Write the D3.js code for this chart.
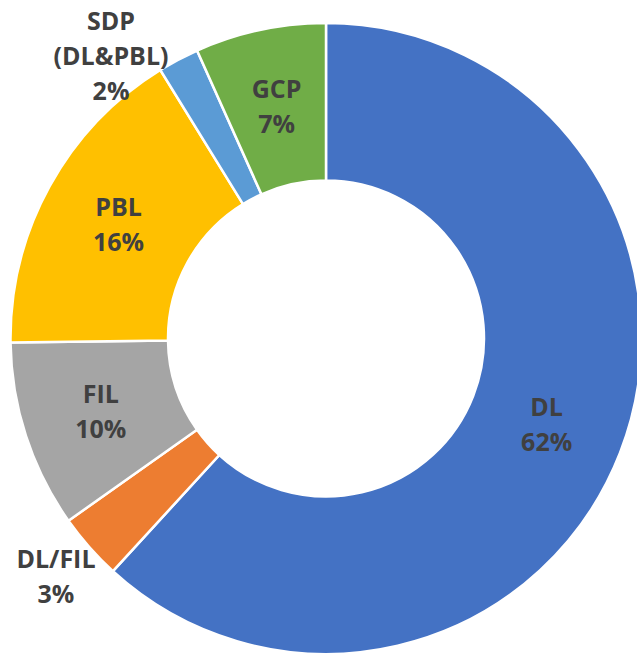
<!DOCTYPE html>
<html>
<head>
<meta charset="utf-8">
<script src="https://cdn.jsdelivr.net/npm/d3@7"></script>
<style>
  html, body { margin: 0; padding: 0; background: #fff; }
  svg { display: block; }
</style>
</head>
<body>
<div id="chart"></div>
<script>
// slice data, clockwise from 12 o'clock
const labels = [["DL"], ["DL/FIL"], ["FIL"], ["PBL"], ["SDP", "(DL&PBL)"], ["GCP"]];
const values = [61.8, 3.4, 9.6, 16.4, 2.1, 6.7];
const pctText = ["62%", "3%", "10%", "16%", "2%", "7%"];
const colors = ["#4472C4", "#ED7D31", "#A5A5A5", "#FFC000", "#5B9BD5", "#70AD47"];

const width = 637, height = 654;
const cx = 326, cy = 338.5;
const outerR = 315.5, innerR = 158;
const lineH = 35, capH = 18;

const svg = d3.select("#chart").append("svg")
    .attr("width", width)
    .attr("height", height);

const g = svg.append("g").attr("transform", `translate(${cx},${cy})`);

const pie = d3.pie().sort(null).value(d => d.value);
const data = values.map((v, i) => ({value: v, label: labels[i], pct: pctText[i], color: colors[i]}));
const arcs = pie(data);

const arc = d3.arc().innerRadius(innerR).outerRadius(outerR);

g.selectAll(".slice")
    .data(arcs)
    .enter().append("path")
    .attr("class", "slice")
    .attr("d", arc)
    .attr("fill", d => d.data.color)
    .attr("stroke", "#fff")
    .attr("stroke-width", 2.5);

// label position: inside for big slices, outside (slid to stay in view) for small ones
function labelPos(d, nLines, blockW) {
    if (d.value >= 5) return arc.centroid(d);
    let a = (d.startAngle + d.endAngle) / 2;
    let r = 360;
    let x = r * Math.sin(a), y = -r * Math.cos(a);
    let topLimit = 12 - cy;
    let leftLimit = 15 - cx;
    let halfTop = (nLines - 1) / 2 * lineH + capH / 2;
    if (y - halfTop < topLimit) {
        r = 355;
        y = topLimit + halfTop;
        x = Math.sign(x) * Math.sqrt(r * r - y * y);
    }
    if (x - blockW / 2 < leftLimit) {
        r = 367;
        x = leftLimit + blockW / 2;
        y = Math.sign(y) * Math.sqrt(r * r - x * x);
    }
    return [x, y];
}

const labelG = g.selectAll(".lbl")
    .data(arcs)
    .enter().append("text")
    .attr("class", "lbl")
    .attr("text-anchor", "middle")
    .style("font-family", "'Open Sans', sans-serif")
    .style("font-weight", "700")
    .style("font-size", "25px")
    .style("fill", "#404040");

labelG.each(function (d) {
    let t = d3.select(this);
    let lines = d.data.label.concat([d.data.pct]);
    lines.forEach(l => t.append("tspan").attr("x", 0).text(l));
    let blockW = this.getBBox().width;
    let [x, y] = labelPos(d, lines.length, blockW);
    let first = -(lines.length - 1) / 2 * lineH + capH / 2;
    t.selectAll("tspan")
        .attr("x", x)
        .attr("y", (p, i) => y + first + i * lineH);
});
</script>
</body>
</html>
